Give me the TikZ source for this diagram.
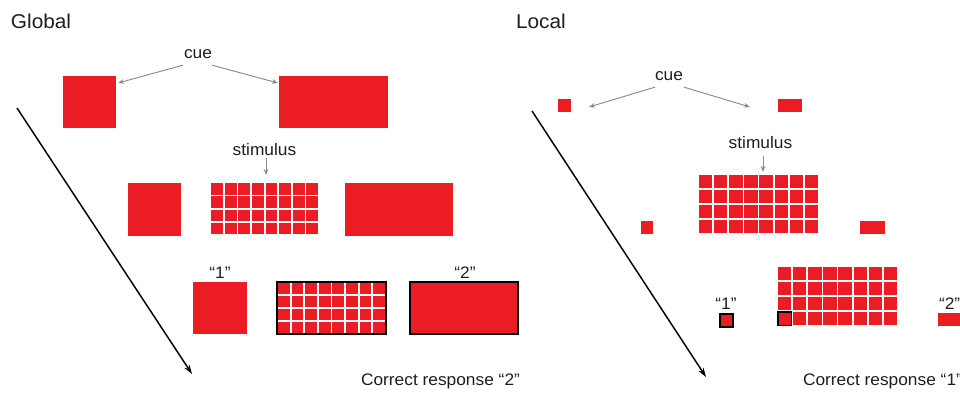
\documentclass[tikz,border=0pt]{standalone}
\usepackage{fontspec}
\setmainfont[FakeStretch=1.04]{Liberation Sans}
\usetikzlibrary{arrows.meta}
\definecolor{myred}{HTML}{EC1C24}
\definecolor{arrgray}{HTML}{8A8A8A}
\definecolor{txt}{HTML}{1E1E1E}
\tikzset{
  redbox/.style={fill=myred,draw=none,inner sep=0pt,outer sep=0pt},
  framed/.style={draw=black,line width=1.1pt},
  lbl/.style={inner sep=0pt,outer sep=0pt,text=txt,font=\fontsize{12.5}{14}\selectfont},
  title/.style={inner sep=0pt,outer sep=0pt,text=txt,font=\fontsize{15}{17}\selectfont},
  cuearrow/.style={draw=arrgray,line width=0.7pt,-{Stealth[length=4.5pt,width=3.5pt]}},
  timearrow/.style={draw=black,line width=1.1pt,-{Stealth[length=7pt,width=4.5pt]}},
}
% \rbox[options]{name}{x1}{y1}{x2}{y2}
\newcommand\rbox[6][]{\node[redbox,#1,minimum width={(#5-#3)*0.75pt},minimum height={(#6-#4)*0.75pt}] (#2) at ({(#3+#5)/2},{(#4+#6)/2}) {};}
\begin{document}
\begin{tikzpicture}[x=0.75pt,y=-0.75pt]
\useasboundingbox (0,0) rectangle (960,393);
\fill[white] (0,0) rectangle (960,393);

% ================= GLOBAL =================
\node[title,anchor=base west] (gtitle) at (11,28) {Global};
\node[lbl,anchor=base] (gcue) at (198,58) {cue};
\rbox{gcueA}{63}{76}{116}{128}
\rbox{gcueB}{279}{76}{388}{128}
\coordinate (gca) at (118,83);
\coordinate (gcb) at (278,83);
\draw[cuearrow] (gcue.south west) ++(-1,7) coordinate (gcs1) -- (gca);
\draw[cuearrow] (gcue.south east) ++(0,7) coordinate (gcs2) -- (gcb);

\node[lbl,anchor=base] (gstim) at (264.5,155) {stimulus};
\coordinate (gst) at (266,175);
\draw[cuearrow] (266,158) coordinate (gss) -- (gst);
\rbox{gsA}{128}{183}{181}{236}
\rbox{gsB}{345}{183}{453}{236}
\foreach \i in {0,...,7}{
  \foreach \j in {0,...,3}{
    \fill[myred] ({211+\i*13.625},{183+\j*13.25}) rectangle ++(11.9,11.5);
  }
}

\node[lbl,anchor=base] (g1) at (220,278) {“1”};
\node[lbl,anchor=base] (g2) at (465,278) {“2”};
\rbox{grA}{193}{282}{247}{334}
\rbox[framed]{grB}{410}{282}{518}{334}
\fill[myred] (277,282) rectangle (386,334);
\foreach \i in {1,...,7}{
  \draw[white,line width=1.4pt] ({277+\i*13.625},282) -- ++(0,52);
}
\foreach \j in {1,...,3}{
  \draw[white,line width=1.4pt] (277,{282+\j*13}) -- ++(109,0);
}
\node[framed,inner sep=0pt,outer sep=0pt,minimum width={109*0.75pt},minimum height={52*0.75pt}] (grG) at (331.5,308) {};

\node[lbl,anchor=base west] (gcorr) at (361,385) {Correct response “2”};
\coordinate (gt1) at (17,108);
\coordinate (gt2) at (192,374);
\draw[timearrow] (gt1) -- (gt2);

% ================= LOCAL =================
\node[title,anchor=base west] (ltitle) at (516,28) {Local};
\node[lbl,anchor=base] (lcue) at (669,80) {cue};
\rbox{lcueA}{558}{99}{571}{112}
\rbox{lcueB}{778}{99}{802}{112}
\coordinate (lca) at (589,107);
\coordinate (lcb) at (750,107);
\draw[cuearrow] (lcue.south west) ++(0,7) coordinate (lcs1) -- (lca);
\draw[cuearrow] (lcue.south east) ++(1,7) coordinate (lcs2) -- (lcb);

\node[lbl,anchor=base] (lstim) at (760.5,148) {stimulus};
\coordinate (lst) at (763,172);
\draw[cuearrow] (763,156) coordinate (lss) -- (lst);
\foreach \i in {0,...,7}{
  \foreach \j in {0,...,3}{
    \fill[myred] ({699+\i*15.1},{175+\j*15}) rectangle ++(13.3,13.3);
  }
}
\rbox{lsA}{641}{221}{653}{234}
\rbox{lsB}{860}{221}{885}{234}

\node[lbl,anchor=base] (l1) at (726,309) {“1”};
\node[lbl,anchor=base west] (l2) at (939,309) {“2”};
\rbox[framed]{lrA}{720}{314}{733}{327}
\rbox{lrB}{938}{313}{962}{326}
\foreach \i in {0,...,7}{
  \foreach \j in {0,...,3}{
    \fill[myred] ({778+\i*15.1},{267+\j*15}) rectangle ++(13.3,13.3);
  }
}
\draw[black,line width=1.1pt] (778,312) rectangle ++(13.3,13.3);

\node[lbl,anchor=base west] (lcorr) at (803,385) {Correct response “1”};
\coordinate (lt1) at (532,111);
\coordinate (lt2) at (706,377);
\draw[timearrow] (lt1) -- (lt2);
\end{tikzpicture}
\end{document}
